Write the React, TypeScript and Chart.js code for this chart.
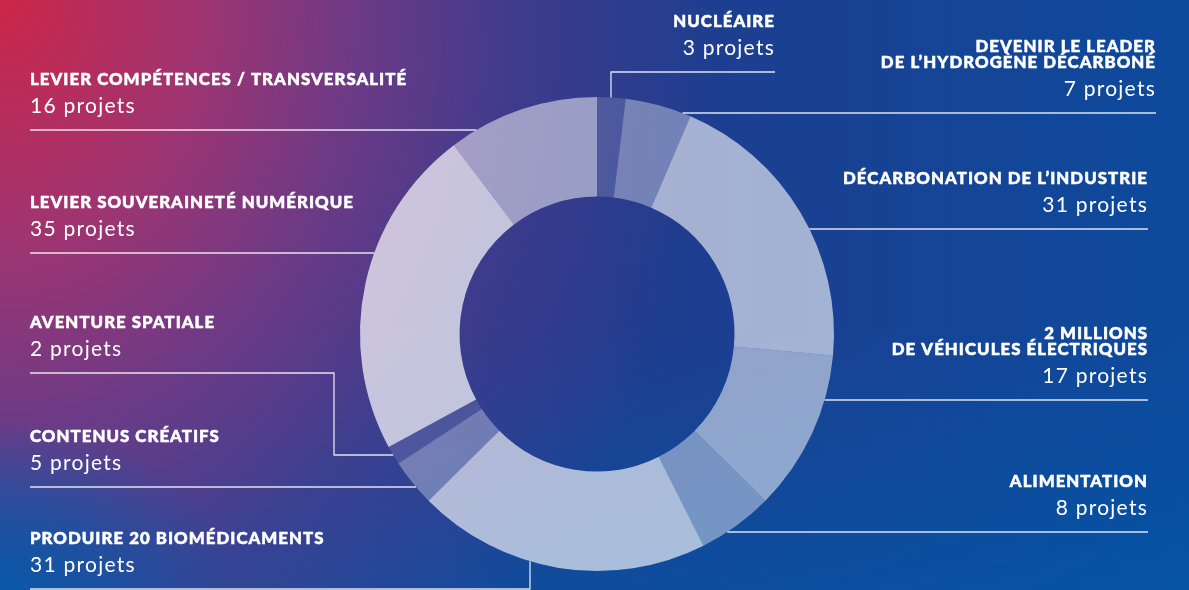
import React, { useEffect, useRef } from "react";
import { Chart, registerables } from "chart.js";

Chart.register(...registerables);

// ---- Data ----
const TITLES: string[][] = [
  ["NUCLÉAIRE"],
  ["DEVENIR LE LEADER", "DE L’HYDROGÈNE DÉCARBONÉ"],
  ["DÉCARBONATION DE L’INDUSTRIE"],
  ["2 MILLIONS", "DE VÉHICULES ÉLECTRIQUES"],
  ["ALIMENTATION"],
  ["PRODUIRE 20 BIOMÉDICAMENTS"],
  ["CONTENUS CRÉATIFS"],
  ["AVENTURE SPATIALE"],
  ["LEVIER SOUVERAINETÉ NUMÉRIQUE"],
  ["LEVIER COMPÉTENCES / TRANSVERSALITÉ"],
];
const PROJECTS: number[] = [3, 7, 31, 17, 8, 31, 5, 2, 35, 16];
const UNIT = "projets";

// ---- Styles / layout (not data) ----
const SEGMENT_ALPHA: number[] = [0.15, 0.36, 0.6, 0.52, 0.42, 0.64, 0.32, 0.12, 0.7, 0.5];

type Callout = {
  align: "left" | "right";
  textX: number;
  lineY: number;
  kind?: "down" | "up" | "elbow";
  elbowX?: number;
  toY?: number;
};
const CALLOUTS: Callout[] = [
  { align: "right", textX: 775, lineY: 72, kind: "down", elbowX: 611 },
  { align: "right", textX: 1156, lineY: 113 },
  { align: "right", textX: 1148, lineY: 229 },
  { align: "right", textX: 1148, lineY: 400 },
  { align: "right", textX: 1148, lineY: 532 },
  { align: "left", textX: 30, lineY: 589, kind: "up", elbowX: 530 },
  { align: "left", textX: 30, lineY: 487 },
  { align: "left", textX: 30, lineY: 373, kind: "elbow", elbowX: 334, toY: 455 },
  { align: "left", textX: 30, lineY: 253 },
  { align: "left", textX: 30, lineY: 130 },
];

const TITLE_FONT = "900 16.8px Lato, 'Open Sans', sans-serif";
const TITLE_SPACING = "1.05px";
const VALUE_FONT = "400 21px Lato, 'Open Sans', sans-serif";
const VALUE_SPACING = "1.25px";

const BG = [
  "radial-gradient(ellipse 230px 170px at 0% 100%, rgba(10,88,168,1) 0%, rgba(10,88,168,0.6) 50%, rgba(10,88,168,0) 100%)",
  "radial-gradient(ellipse 720px 860px at 0% 0%, rgba(204,38,72,1) 0%, rgba(165,52,112,0.95) 28%, rgba(125,58,132,0.8) 50%, rgba(90,60,140,0.5) 72%, rgba(50,60,140,0) 100%)",
  "linear-gradient(to bottom, rgba(0,90,170,0) 55%, rgba(0,90,170,0.55) 100%)",
  "linear-gradient(to right, #2c3a8e 0%, #233a8c 45%, #0d4a9c 100%)",
].join(", ");

const calloutPlugin = {
  id: "callouts",
  afterDatasetsDraw(chart: any) {
    const meta = chart.getDatasetMeta(0);
    const arc0 = meta.data[0];
    if (!arc0) return;
    const cx = arc0.x;
    const cy = arc0.y;
    const R = arc0.outerRadius;
    const ctx = chart.ctx as CanvasRenderingContext2D;
    ctx.save();
    ctx.strokeStyle = "rgba(255,255,255,0.85)";
    ctx.lineWidth = 1.3;
    ctx.fillStyle = "#ffffff";
    ctx.textBaseline = "alphabetic";

    CALLOUTS.forEach((c, i) => {
      // leader line, ending on the ring's outer edge
      ctx.strokeStyle = "rgba(255,255,255,0.85)";
      ctx.lineWidth = 1.3;
      ctx.beginPath();
      if (c.kind === "down" && c.elbowX !== undefined) {
        const yEdge = cy - Math.sqrt(R * R - (c.elbowX - cx) ** 2);
        ctx.moveTo(c.textX, c.lineY);
        ctx.lineTo(c.elbowX, c.lineY);
        ctx.lineTo(c.elbowX, yEdge);
      } else if (c.kind === "up" && c.elbowX !== undefined) {
        const yEdge = cy + Math.sqrt(R * R - (c.elbowX - cx) ** 2);
        ctx.moveTo(c.textX, c.lineY);
        ctx.lineTo(c.elbowX, c.lineY);
        ctx.lineTo(c.elbowX, yEdge);
      } else if (c.kind === "elbow" && c.elbowX !== undefined && c.toY !== undefined) {
        const xEdge = cx - Math.sqrt(R * R - (c.toY - cy) ** 2);
        ctx.moveTo(c.textX, c.lineY);
        ctx.lineTo(c.elbowX, c.lineY);
        ctx.lineTo(c.elbowX, c.toY);
        ctx.lineTo(xEdge, c.toY);
      } else {
        const dx = Math.sqrt(Math.max(R * R - (c.lineY - cy) ** 2, 0));
        const xEdge = c.align === "left" ? cx - dx : cx + dx;
        ctx.moveTo(c.textX, c.lineY);
        ctx.lineTo(xEdge, c.lineY);
      }
      ctx.stroke();

      // text
      ctx.textAlign = c.align;
      const lines = TITLES[i];
      const valueY = c.lineY - 17.5;
      const lastTitleY = c.lineY - 45;
      ctx.font = TITLE_FONT;
      (ctx as any).letterSpacing = TITLE_SPACING;
      ctx.strokeStyle = "#ffffff";
      ctx.lineWidth = 0.55;
      ctx.lineJoin = "round";
      lines.forEach((t, k) => {
        const y = lastTitleY - (lines.length - 1 - k) * 16.5;
        ctx.fillText(t, c.textX, y);
        ctx.strokeText(t, c.textX, y);
      });
      ctx.font = VALUE_FONT;
      (ctx as any).letterSpacing = VALUE_SPACING;
      ctx.fillText(`${PROJECTS[i]} ${UNIT}`, c.textX, valueY);
      (ctx as any).letterSpacing = "0px";
    });
    ctx.restore();
  },
};

export default function App() {
  const canvasRef = useRef<HTMLCanvasElement | null>(null);

  useEffect(() => {
    document.body.style.margin = "0";
    const canvas = canvasRef.current;
    if (!canvas) return;
    const chart = new Chart(canvas, {
      type: "doughnut",
      data: {
        labels: TITLES.map((t) => t.join(" ")),
        datasets: [
          {
            data: PROJECTS,
            backgroundColor: SEGMENT_ALPHA.map((a) => `rgba(255,255,255,${a})`),
            borderWidth: 0,
            hoverOffset: 0,
          },
        ],
      },
      options: {
        responsive: false,
        animation: false,
        cutout: "58%",
        layout: { padding: { left: 360, right: 355, top: 97, bottom: 19 } },
        plugins: {
          legend: { display: false },
          tooltip: { enabled: false },
        },
        events: [],
      },
      plugins: [calloutPlugin],
    });
    return () => chart.destroy();
  }, []);

  return (
    <div
      style={{
        position: "fixed",
        left: 0,
        top: 0,
        width: 1189,
        height: 590,
        background: BG,
        overflow: "hidden",
      }}
    >
      <canvas ref={canvasRef} width={1189} height={590} style={{ display: "block" }} />
    </div>
  );
}
